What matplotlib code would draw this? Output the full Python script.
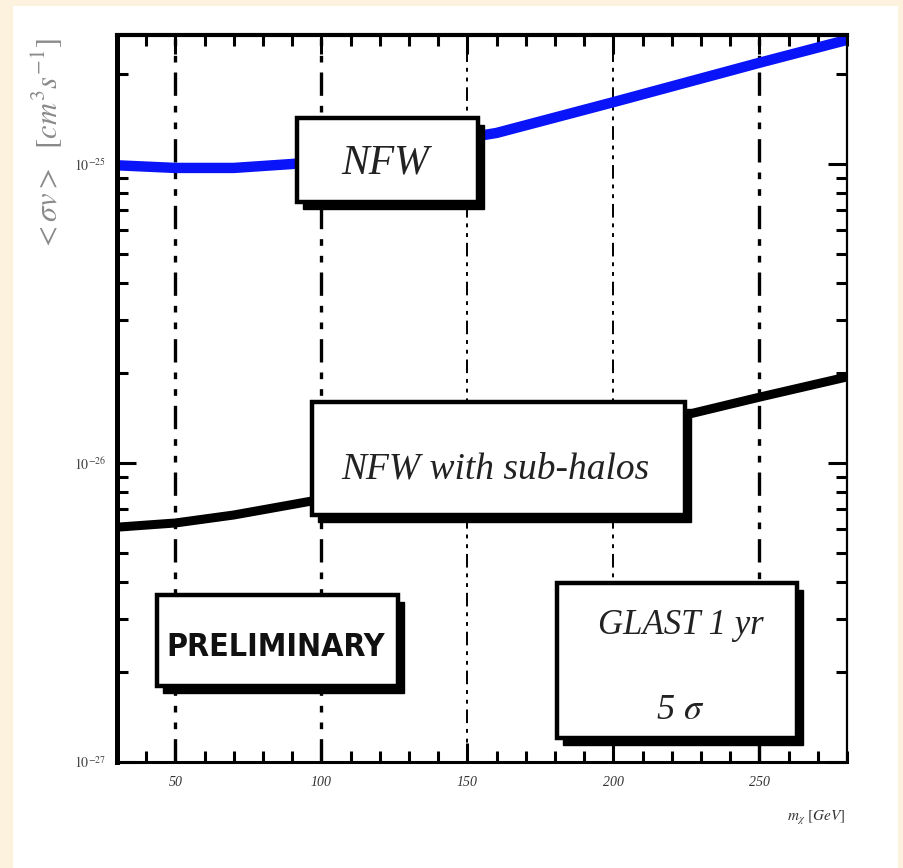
import numpy as np
import matplotlib
matplotlib.use("Agg")
import matplotlib.pyplot as plt
from matplotlib.patches import Rectangle
from matplotlib.ticker import MultipleLocator, LogLocator, FixedLocator, FuncFormatter

plt.rcParams['mathtext.fontset'] = 'stix'

# NFW (blue) curve
mass_nfw = [30, 50, 70, 90, 100, 120, 140, 160, 200, 250, 280]
sv_nfw = [9.9e-26, 9.7e-26, 9.7e-26, 1.0e-25, 1.02e-25, 1.10e-25, 1.18e-25,
          1.27e-25, 1.61e-25, 2.18e-25, 2.60e-25]

# NFW with sub-halos (black)
mass_sub = [30, 50, 70, 93, 120, 150, 180, 200, 225, 250, 280]
sv_sub = [6.1e-27, 6.3e-27, 6.7e-27, 7.35e-27, 8.2e-27, 9.5e-27, 1.1e-26,
          1.26e-26, 1.45e-26, 1.66e-26, 1.94e-26]

vlines = [50, 100, 150, 200, 250]
y_decades = [1e-27, 1e-26, 1e-25]
xlim = (30, 280)
ylim = (1e-27, 2.7e-25)

cream = '#fcf2de'
fig = plt.figure(figsize=(9.04, 8.68), dpi=100, facecolor=cream)
fig.patches.append(Rectangle((13/904, 0), 885/904, 862/868, transform=fig.transFigure,
                             facecolor='white', edgecolor='none', zorder=-10))

ax = fig.add_axes([117/904, 1-762/868, 730/904, 727/868])
ax.set_facecolor('white')
ax.set_yscale('log')
ax.set_xlim(*xlim)
ax.set_ylim(*ylim)

# dash-dot grid lines at the major x ticks
vl_width = [2.4, 2.4, 1.4, 1.4, 2.4]
for xv, lw in zip(vlines, vl_width):
    ax.axvline(xv, color='black', lw=lw, dashes=(7, 3, 2, 3, 2, 3), zorder=1)

ax.plot(mass_nfw, sv_nfw, color='#0a14f8', lw=7.5, solid_capstyle='butt', zorder=2)
ax.plot(mass_sub, sv_sub, color='black', lw=6.5, solid_capstyle='butt', zorder=2)

# framed boxes with drop shadows
def box(x0, y0, x1, y1):
    dx, dy = 6/730, 7/727
    ax.add_patch(Rectangle((x0 + dx, y0 - dy), x1 - x0, y1 - y0, transform=ax.transAxes,
                           facecolor='black', edgecolor='black', zorder=3, clip_on=False))
    ax.add_patch(Rectangle((x0, y0), x1 - x0, y1 - y0, transform=ax.transAxes,
                           facecolor='white', edgecolor='black', lw=3.2, zorder=4, clip_on=False))

box(0.2466, 0.770, 0.4945, 0.886)
box(0.267, 0.340, 0.778, 0.495)
box(0.055, 0.1045, 0.385, 0.2297)
box(0.603, 0.033, 0.932, 0.246)

serif_it = dict(family='Liberation Serif', style='italic', color='#222222', zorder=5)
ax.text(0.367, 0.824, 'NFW', transform=ax.transAxes, ha='center', va='center',
        fontsize=30, **serif_it)
ax.text(0.519, 0.402, 'NFW with sub-halos', transform=ax.transAxes, ha='center',
        va='center', fontsize=27, **serif_it)
ax.text(0.218, 0.157, 'PRELIMINARY', transform=ax.transAxes, ha='center', va='center',
        fontsize=23, family='DejaVu Sans', fontstretch='condensed', fontweight='bold',
        color='#111111', zorder=5)
ax.text(0.773, 0.188, 'GLAST 1 yr', transform=ax.transAxes, ha='center', va='center',
        fontsize=25, **serif_it)
ax.text(0.771, 0.0715, r'5 $\mathit{\sigma}$', transform=ax.transAxes, ha='center',
        va='center', fontsize=26, **serif_it)

# axes frame and ticks
ax.spines['left'].set_linewidth(3.6)
ax.spines['top'].set_linewidth(3.0)
ax.spines['right'].set_linewidth(1.6)
ax.spines['bottom'].set_linewidth(2.2)
for s in ax.spines.values():
    s.set_zorder(6)

ax.xaxis.set_major_locator(MultipleLocator(50))
ax.xaxis.set_minor_locator(MultipleLocator(10))
ax.yaxis.set_major_locator(FixedLocator(y_decades))
ax.yaxis.set_minor_locator(LogLocator(base=10, subs=np.arange(2, 10)))
ax.yaxis.set_minor_formatter(FuncFormatter(lambda v, p: ''))
ax.tick_params(which='both', direction='in', top=True, right=True, width=2.2)
ax.tick_params(which='major', length=14, pad=10)
ax.tick_params(which='minor', length=8)
ax.xaxis.set_major_formatter(FuncFormatter(lambda v, p: '%d' % v))
ax.yaxis.set_major_formatter(FuncFormatter(
    lambda v, p: r'$\mathit{10^{%d}}$' % int(round(np.log10(v)))))
for lab in ax.get_xticklabels():
    lab.set_family('Liberation Serif')
    lab.set_style('italic')
    lab.set_fontsize(10)
    lab.set_color('#333333')
ax.tick_params(axis='y', labelsize=10, labelcolor='#444444', pad=8)
ax.tick_params(axis='x', labelcolor='#333333')

fig.text(47/904, 1-38/868, r'$<\sigma v>\ \ [cm^{3}s^{-1}]$', rotation=90, ha='center',
         va='top', fontsize=22, color='#8a8a8a')
fig.text(845/904, 1-818/868, r'$m_{\chi}\ [GeV]$', ha='right', va='center',
         fontsize=11, color='#333333')

fig.savefig('out.png', dpi=100, facecolor=cream)
